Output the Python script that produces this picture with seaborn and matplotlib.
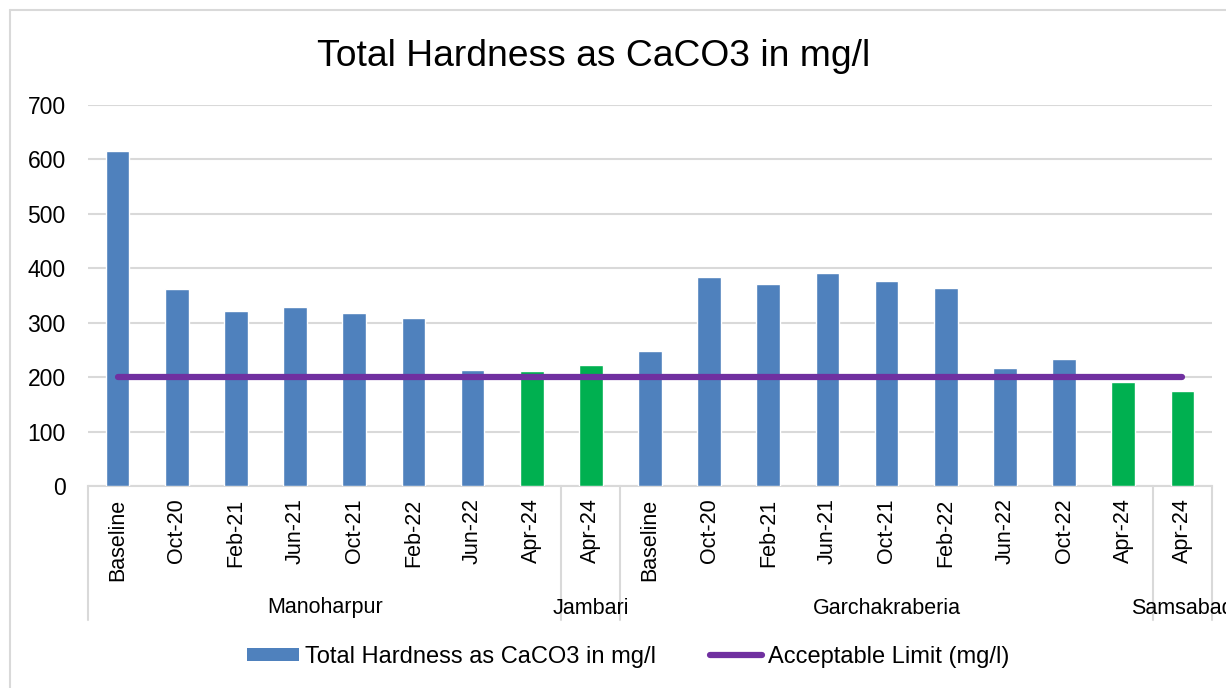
import matplotlib
matplotlib.use("Agg")
import matplotlib.pyplot as plt
from matplotlib.lines import Line2D
from matplotlib.patches import Patch
import seaborn as sns
import pandas as pd

# Sampling campaigns per location
locations = ["Manoharpur", "Jambari", "Garchakraberia", "Samsabad"]
periods = [
    ["Baseline", "Oct-20", "Feb-21", "Jun-21", "Oct-21", "Feb-22", "Jun-22", "Apr-24"],
    ["Apr-24"],
    ["Baseline", "Oct-20", "Feb-21", "Jun-21", "Oct-21", "Feb-22", "Jun-22", "Oct-22", "Apr-24"],
    ["Apr-24"],
]
hardness = [
    [615, 362, 321, 329, 318, 309, 213, 211],
    [222],
    [248, 384, 371, 391, 376, 363, 217, 233, 191],
    [175],
]
acceptable_limit = 200

series_name = "Total Hardness as CaCO3 in mg/l"
limit_name = "Acceptable Limit (mg/l)"

BLUE = "#4F81BD"
GREEN = "#00B050"
PURPLE = "#7030A0"
GRID = "#D9D9D9"

rows = []
for loc, per, vals in zip(locations, periods, hardness):
    for p, v in zip(per, vals):
        rows.append({"location": loc, "period": p, "value": v})
df = pd.DataFrame(rows)
df["idx"] = range(len(df))
# Apr-24 campaign highlighted in green
df["color"] = [GREEN if p == "Apr-24" else BLUE for p in df["period"]]

sns.set_theme(style="white")
plt.rcParams["font.family"] = ["Liberation Sans", "DejaVu Sans"]
plt.rcParams["text.color"] = "black"

W, H = 1226, 688
fig = plt.figure(figsize=(W / 100, H / 100), dpi=100)
ax_left, ax_right, ax_top, ax_bottom = 88, 1212, 105, 486
ax = fig.add_axes([ax_left / W, (H - ax_bottom) / H,
                   (ax_right - ax_left) / W, (ax_bottom - ax_top) / H])

palette = dict(zip(df["idx"].astype(str), df["color"]))
sns.barplot(data=df.assign(key=df["idx"].astype(str)), x="key", y="value",
            hue="key", palette=palette, legend=False, width=0.4,
            saturation=1, ax=ax, zorder=3)

n = len(df)
limit_df = pd.DataFrame({"x": [0, n - 1], "y": [acceptable_limit, acceptable_limit]})
ax.plot(limit_df["x"], limit_df["y"], color=PURPLE, lw=4.5,
        solid_capstyle="round", zorder=4)

ax.set_xlim(-0.5, n - 0.5)
ax.set_ylim(0, 700)
ax.set_yticks(range(0, 701, 100))
ax.yaxis.grid(True, color=GRID, lw=1.5, zorder=0)
ax.set_axisbelow(True)
for s in ["top", "right", "left"]:
    ax.spines[s].set_visible(False)
ax.spines["bottom"].set_color(GRID)
ax.spines["bottom"].set_linewidth(1.5)
ax.tick_params(axis="y", length=0, pad=16, labelsize=16.5, labelcolor="black")
ax.tick_params(axis="x", length=0, pad=9, labelsize=15.5, labelcolor="black")
ax.set_xticks(df["idx"])
ax.set_xticklabels(df["period"], rotation=90, ha="center", va="top")
ax.set_xlabel("")
ax.set_ylabel("")

# Multi-level category axis: group separators and location labels
ax_h = ax_bottom - ax_top
sep_bottom = -(620 - ax_bottom) / ax_h
label_y = -(608 - ax_bottom) / ax_h
trans = ax.get_xaxis_transform()
start = 0
bounds = [-0.5]
for loc, per in zip(locations, periods):
    end = start + len(per)
    bounds.append(end - 0.5)
    ax.text((start + end - 1) / 2, label_y, loc, transform=trans,
            ha="center", va="center", fontsize=15.5, color="black", clip_on=False)
    start = end
for b in bounds:
    ax.plot([b, b], [0, sep_bottom], transform=trans, color=GRID, lw=1.5,
            clip_on=False)

fig.text(594 / W, 1 - 57 / H, series_name, ha="center", va="center",
         fontsize=26.8, color="black")

handles = [Patch(facecolor=BLUE, edgecolor="none", label=series_name),
           Line2D([0], [0], color=PURPLE, lw=4.5, solid_capstyle="round",
                  label=limit_name)]
fig.legend(handles=handles, loc="center", bbox_to_anchor=(628 / W, 1 - 657 / H),
           ncol=2, frameon=False, fontsize=17, handlelength=2.2,
           handleheight=0.5, handletextpad=0.25, columnspacing=2.3,
           labelcolor="black")

# Chart-area border
fig.add_artist(Line2D([10 / W, 10 / W], [0, 1 - 10 / H], color=GRID, lw=1.5,
                      transform=fig.transFigure))
fig.add_artist(Line2D([10 / W, 1], [1 - 10 / H, 1 - 10 / H], color=GRID, lw=1.5,
                      transform=fig.transFigure))

fig.savefig("out.png", dpi=100, facecolor="white")
